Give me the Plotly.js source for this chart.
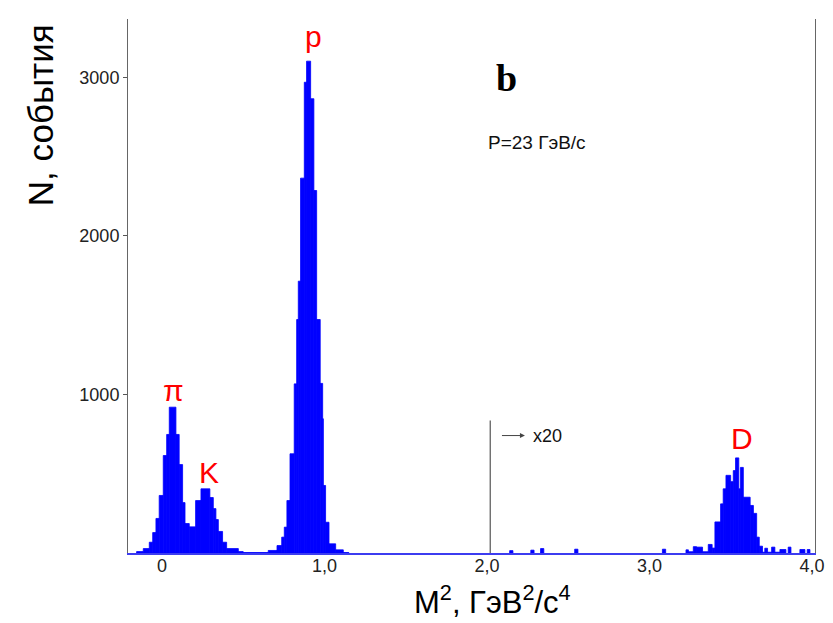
<!DOCTYPE html>
<html>
<head>
<meta charset="utf-8">
<script src="https://cdn.plot.ly/plotly-3.0.1.min.js"></script>
<style>html,body{margin:0;padding:0;background:#fff;}#chart{width:833px;height:623px;}</style>
</head>
<body>
<div id="chart"></div>
<script>
// Histogram bin edges (M^2, GeV^2/c^4) and counts per bin (region right of 2.0 shown x20)
const binEdges = [
  -0.156, -0.115, -0.078, -0.057, -0.037, -0.017, 0.008, 0.029, 0.045, 0.086,
  0.106, 0.127, 0.142, 0.168, 0.207, 0.240, 0.295, 0.316, 0.332, 0.347,
  0.373, 0.398, 0.470, 0.500, 0.654, 0.708, 0.737, 0.753, 0.769, 0.788,
  0.814, 0.829, 0.839, 0.853, 0.876, 0.890, 0.915, 0.935, 0.952, 0.974,
  0.989, 0.993, 1.007, 1.028, 1.069, 1.116, 1.150, 2.140, 2.160, 2.270,
  2.290, 2.330, 2.350, 2.540, 2.560, 3.080, 3.100, 3.225, 3.240, 3.270,
  3.290, 3.327, 3.362, 3.386, 3.403, 3.438, 3.454, 3.471, 3.500, 3.516,
  3.530, 3.550, 3.560, 3.578, 3.620, 3.640, 3.660, 3.676, 3.696, 3.710,
  3.727, 3.752, 3.772, 3.803, 3.840, 3.854, 3.871, 3.926, 3.957, 3.971,
  3.988
];
const binCounts = [
  9, 28, 68, 129, 218, 363, 615, 748, 920, 748,
  558, 318, 186, 165, 331, 405, 350, 280, 211, 136,
  68, 28, 9, 3, 16, 47, 100, 163, 331, 626,
  1067, 1473, 1715, 2365, 2970, 3103, 2866, 2287, 1473, 1070,
  847, 426, 194, 58, 20, 3, 0, 15, 0, 18,
  0, 28, 0, 24, 0, 24, 0, 20, 8, 40,
  37, 8, 54, 31, 196, 310, 405, 490, 450, 520,
  600, 405, 540, 352, 300, 250, 100, 43, 5, 30,
  5, 37, 5, 22, 0, 37, 0, 22, 0, 22
];
const xTickVals = [0, 1, 2, 3, 4];
const xTickText = ["0", "1,0", "2,0", "3,0", "4,0"];
const yTickVals = [1000, 2000, 3000];
const peakLabels = ["π", "K", "p", "D"];
const peakLabelX = [0.074, 0.289, 0.935, 3.567];
const peakLabelY = [1025, 505, 3260, 722];
const scaleBoundary = 2.02;   // start of x20 region
const scaleLineTop = 836;

const cx = [], cy = [], cw = [];
binCounts.forEach((c, i) => {
  if (c > 0) {
    cx.push((binEdges[i] + binEdges[i + 1]) / 2);
    cy.push(c);
    cw.push(binEdges[i + 1] - binEdges[i]);
  }
});

const trace = {
  type: 'bar',
  x: cx,
  y: cy,
  width: cw,
  marker: {color: '#0000ff', line: {width: 0.8, color: '#0000ff'}},
  hoverinfo: 'x+y',
  showlegend: false
};

const font = 'Liberation Sans, Arial, sans-serif';
const annotations = peakLabels.map((t, i) => ({
  x: peakLabelX[i], y: peakLabelY[i], xref: 'x', yref: 'y',
  text: t, showarrow: false, xanchor: 'center', yanchor: 'middle',
  font: {family: font, size: 30, color: '#ff0000'}
}));
annotations.push(
  {x: 2.123, y: 2994, xref: 'x', yref: 'y', text: '<b>b</b>', showarrow: false,
   font: {family: 'Liberation Serif, Times New Roman, serif', size: 38, color: '#000'}},
  {x: 2.311, y: 2592, xref: 'x', yref: 'y', text: 'P=23 ГэВ/с', showarrow: false,
   font: {family: font, size: 19, color: '#111'}},
  {x: 2.234, y: 741, xref: 'x', yref: 'y', ax: -26, ay: 0, text: ' ', showarrow: true,
   arrowhead: 2, arrowsize: 1, arrowwidth: 1, arrowcolor: '#444'},
  {x: 2.375, y: 741, xref: 'x', yref: 'y', text: 'x20', showarrow: false,
   font: {family: font, size: 18, color: '#111'}},
  {x: -0.128, y: 0.82, xref: 'paper', yref: 'paper', text: 'N, события', textangle: -90,
   showarrow: false, xanchor: 'center', yanchor: 'middle',
   font: {family: font, size: 35, color: '#000'}},
  {x: 0.531, y: -0.088, xref: 'paper', yref: 'paper',
   text: 'M<sup>2</sup>, ГэВ<sup>2</sup>/с<sup>4</sup>', showarrow: false,
   xanchor: 'center', yanchor: 'middle',
   font: {family: font, size: 31, color: '#000'}}
);

const layout = {
  width: 833, height: 623,
  margin: {l: 128, r: 18, t: 19, b: 70},
  paper_bgcolor: '#fff', plot_bgcolor: '#fff',
  bargap: 0,
  xaxis: {
    range: [-0.209, 4.019], tickvals: xTickVals, ticktext: xTickText,
    ticks: '', showgrid: false, zeroline: false, ticklabelstandoff: -5,
    showline: true, linecolor: '#3c3cf0', linewidth: 2,
    tickfont: {family: font, size: 18, color: '#222'}
  },
  yaxis: {
    range: [0, 3369], tickvals: yTickVals, ticks: 'outside', ticklen: 4,
    tickcolor: '#555', showgrid: false, zeroline: false,
    showline: true, linecolor: '#666', linewidth: 1, mirror: true,
    tickfont: {family: font, size: 18, color: '#222'}
  },
  shapes: [{type: 'line', xref: 'x', yref: 'y', x0: scaleBoundary, x1: scaleBoundary,
            y0: 0, y1: scaleLineTop, line: {color: '#333', width: 1}}],
  annotations: annotations
};

Plotly.newPlot('chart', [trace], layout, {displayModeBar: false, staticPlot: true});
</script>
</body>
</html>
